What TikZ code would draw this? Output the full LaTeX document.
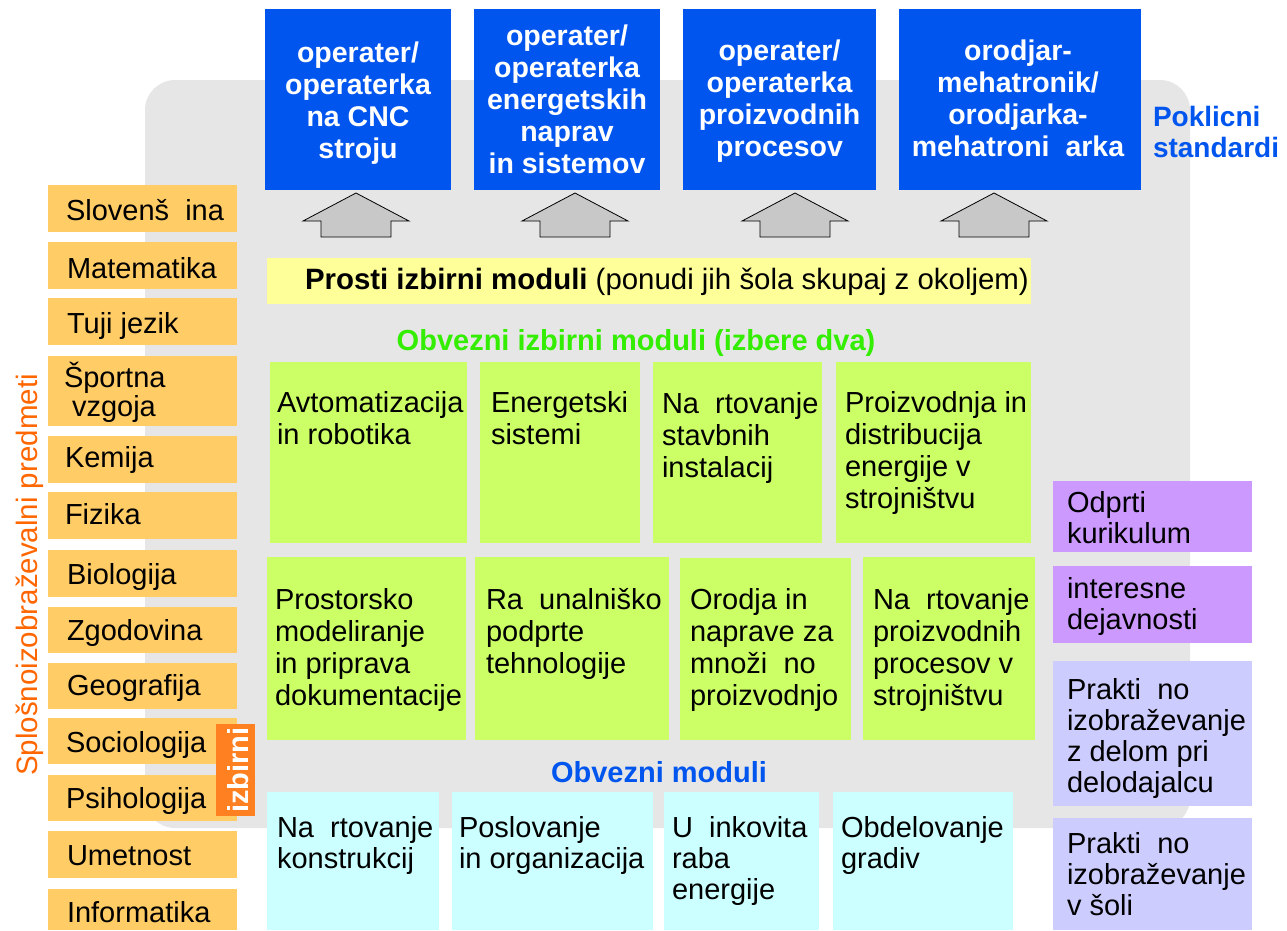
\documentclass[tikz,border=0pt]{standalone}
\usepackage{fontspec}
\setmainfont{Liberation Sans}
\definecolor{bgray}{RGB}{230,230,230}
\definecolor{pblue}{RGB}{0,85,238}
\definecolor{oranbox}{RGB}{255,204,102}
\definecolor{izb}{RGB}{255,128,32}
\definecolor{ortext}{RGB}{255,102,0}
\definecolor{yel}{RGB}{255,255,153}
\definecolor{gbox}{RGB}{204,255,102}
\definecolor{gtitle}{RGB}{51,238,0}
\definecolor{cbox}{RGB}{204,255,255}
\definecolor{pbox}{RGB}{204,153,255}
\definecolor{lbox}{RGB}{204,204,255}
\definecolor{arrfill}{RGB}{200,200,200}
\newcommand\tlines[1]{\begin{tabular}[t]{@{}l@{}}#1\end{tabular}}
\newcommand\tcent[1]{\begin{tabular}[t]{@{}c@{}}#1\end{tabular}}
\newcommand\gp{\kern0.28em\ }
\newcommand\bx[6]{\node[box, fill=#2, minimum width=#5pt-#3pt, minimum height=#6pt-#4pt] (#1) at (#3,#4) {};}
\tikzset{
  box/.style={inner sep=0pt, outer sep=0pt, anchor=north west, draw=none},
  txt/.style={inner sep=0pt, outer sep=0pt, anchor=base west, font=\fontsize{29}{32}\selectfont, text=black},
  txtr/.style={txt, font=\fontsize{29}{31}\selectfont},
  btxt/.style={inner sep=0pt, outer sep=0pt, anchor=base, font=\bfseries\fontsize{28.5}{32}\selectfont, text=white},
  arr/.style={draw=black, fill=arrfill, line width=0.8pt, line join=miter},
}
\newcommand\uparr[1]{\draw[arr] (#1,193) -- (#1+53,221) -- (#1+35,221) -- (#1+35,237) -- (#1-35,237) -- (#1-35,221) -- (#1-53,221) -- cycle;}
\begin{document}
\begin{tikzpicture}[x=1pt,y=-1pt]
\useasboundingbox (0,0) rectangle (1287,930);
% background panel
\fill[bgray, rounded corners=30pt] (145,80) rectangle (1190,828);
% top blue boxes
\bx{b1}{pblue}{265}{9}{451}{190}
\bx{b2}{pblue}{474}{9}{660}{190}
\bx{b3}{pblue}{683}{9}{876}{190}
\bx{b4}{pblue}{899}{9}{1141}{190}
\node[btxt] (tb1) at (358,62) {\tcent{operater/\\operaterka\\na CNC\\stroju}};
\node[btxt] (tb2) at (567,45) {\tcent{operater/\\operaterka\\energetskih\\naprav\\in sistemov}};
\node[btxt] (tb3) at (779.5,60) {\tcent{operater/\\operaterka\\proizvodnih\\procesov}};
\node[btxt] (tb4) at (1018,60) {\tcent{orodjar-\\mehatronik/\\orodjarka-\\mehatroni\gp arka}};
\node[txt, font=\bfseries\fontsize{28}{31}\selectfont, text=pblue] (pok) at (1153,126) {\tlines{Poklicni\\standardi}};
% arrows
\uparr{356}
\uparr{575}
\uparr{795}
\uparr{994}
% prosti izbirni moduli
\bx{pro}{yel}{267}{258}{1031}{304}
\node[txt, font=\fontsize{29.4}{32}\selectfont] (tpro) at (305,289) {\textbf{Prosti izbirni moduli} (ponudi jih šola skupaj z okoljem)};
\node[anchor=base, inner sep=0pt, font=\bfseries\fontsize{29}{32}\selectfont, text=gtitle] (obt) at (636,350) {Obvezni izbirni moduli (izbere dva)};
% green row 1
\bx{g1}{gbox}{270}{362}{467}{543}
\bx{g2}{gbox}{480}{362}{640}{543}
\bx{g3}{gbox}{653}{362}{822}{543}
\bx{g4}{gbox}{836}{362}{1031}{543}
\node[txt] (tg1) at (277,412) {\tlines{Avtomatizacija\\in robotika}};
\node[txt] (tg2) at (491,412) {\tlines{Energetski\\sistemi}};
\node[txt] (tg3) at (662,413) {\tlines{Na\gp rtovanje\\stavbnih\\instalacij}};
\node[txt] (tg4) at (845,412) {\tlines{Proizvodnja in\\distribucija\\energije v\\strojništvu}};
% green row 2
\bx{h1}{gbox}{267}{557}{466}{740}
\bx{h2}{gbox}{475}{557}{669}{740}
\bx{h3}{gbox}{680}{558}{851}{740}
\bx{h4}{gbox}{863}{557}{1035}{740}
\node[txt] (th1) at (275,609) {\tlines{Prostorsko\\modeliranje\\in priprava\\dokumentacije}};
\node[txt] (th2) at (486,609) {\tlines{Ra\gp unalniško\\podprte\\tehnologije}};
\node[txt] (th3) at (690,609) {\tlines{Orodja in\\naprave za\\množi\gp no\\proizvodnjo}};
\node[txt] (th4) at (873,609) {\tlines{Na\gp rtovanje\\proizvodnih\\procesov v\\strojništvu}};
% obvezni moduli
\node[anchor=base, inner sep=0pt, font=\bfseries\fontsize{29}{32}\selectfont, text=pblue] (obm) at (659,782) {Obvezni moduli};
\bx{c1}{cbox}{267}{792}{439}{930}
\bx{c2}{cbox}{452}{792}{653}{930}
\bx{c3}{cbox}{664}{792}{819}{930}
\bx{c4}{cbox}{833}{792}{1013}{930}
\node[txtr] (tc1) at (277,837) {\tlines{Na\gp rtovanje\\konstrukcij}};
\node[txtr] (tc2) at (459,837) {\tlines{Poslovanje\\in organizacija}};
\node[txtr] (tc3) at (672,837) {\tlines{U\gp inkovita\\raba\\energije}};
\node[txtr] (tc4) at (841,837) {\tlines{Obdelovanje\\gradiv}};
% left subjects
\bx{o1}{oranbox}{48}{185}{237}{232}
\bx{o2}{oranbox}{48}{242}{237}{289}
\bx{o3}{oranbox}{48}{298}{237}{345}
\bx{o4}{oranbox}{48}{356}{237}{426}
\bx{o5}{oranbox}{48}{436}{237}{483}
\bx{o6}{oranbox}{48}{492}{237}{539}
\bx{o7}{oranbox}{48}{550}{237}{597}
\bx{o8}{oranbox}{48}{607}{237}{653}
\bx{o9}{oranbox}{48}{663}{237}{709}
\bx{o10}{oranbox}{48}{718}{237}{764}
\bx{o11}{oranbox}{48}{775}{237}{821}
\bx{o12}{oranbox}{48}{831}{237}{878}
\bx{o13}{oranbox}{48}{889}{237}{930}
\node[txt] (to1) at (66,220) {Slovenš\gp ina};
\node[txt] (to2) at (67,278) {Matematika};
\node[txt] (to3) at (67,333) {Tuji jezik};
\node[txt, font=\fontsize{29}{27}\selectfont] (to4) at (64,387) {\tlines{Športna\\\ vzgoja}};
\node[txt] (to5) at (65,467) {Kemija};
\node[txt] (to6) at (65,524) {Fizika};
\node[txt] (to7) at (67,584) {Biologija};
\node[txt] (to8) at (67,640) {Zgodovina};
\node[txt] (to9) at (67,695) {Geografija};
\node[txt] (to10) at (66,752) {Sociologija};
\node[txt] (to11) at (66,808) {Psihologija};
\node[txt] (to12) at (67,865) {Umetnost};
\node[txt] (to13) at (67,922) {Informatika};
\bx{izbox}{izb}{216}{724}{255}{816}
\node[rotate=90, anchor=base, inner sep=0pt, font=\bfseries\fontsize{29}{32}\selectfont, text=white] (tizb) at (248,770) {izbirni};
\node[rotate=90, anchor=base, inner sep=0pt, font=\fontsize{29.5}{32}\selectfont, text=ortext] (splo) at (37,575) {Splošnoizobraževalni predmeti};
% right boxes
\bx{r1}{pbox}{1053}{481}{1252}{552}
\bx{r2}{pbox}{1053}{566}{1252}{643}
\bx{r3}{lbox}{1053}{661}{1252}{806}
\bx{r4}{lbox}{1053}{818}{1252}{930}
\node[txtr] (tr1) at (1067,512) {\tlines{Odprti\\kurikulum}};
\node[txtr] (tr2) at (1067,598) {\tlines{interesne\\dejavnosti}};
\node[txtr] (tr3) at (1067,699) {\tlines{Prakti\gp no\\izobraževanje\\z delom pri\\delodajalcu}};
\node[txtr] (tr4) at (1067,853) {\tlines{Prakti\gp no\\izobraževanje\\v šoli}};
\end{tikzpicture}
\end{document}
